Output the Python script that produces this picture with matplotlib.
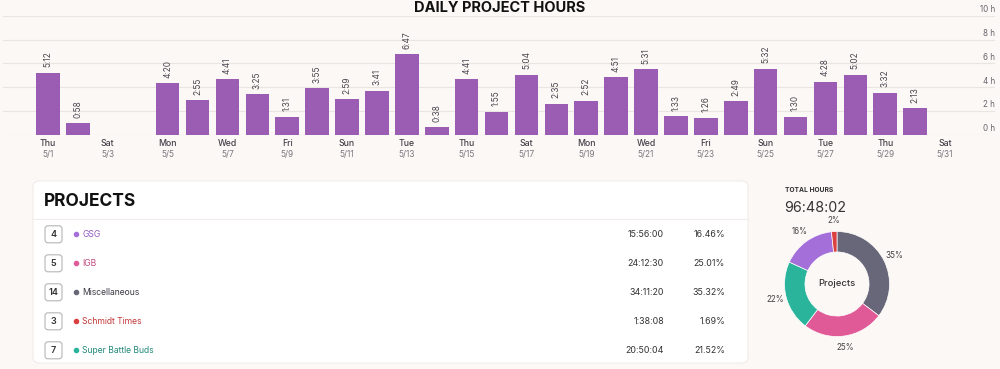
import numpy as np
import matplotlib.pyplot as plt
from matplotlib.patches import FancyBboxPatch

plt.rcParams['font.family'] = ['Inter', 'DejaVu Sans']

# daily hours (h:mm) for May 1..31
day_labels = ["5:12", "0:58", "", "", "4:20", "2:55", "4:41", "3:25", "1:31", "3:55",
              "2:59", "3:41", "6:47", "0:38", "4:41", "1:55", "5:04", "2:35", "2:52",
              "4:51", "5:31", "1:33", "1:26", "2:49", "5:32", "1:30", "4:28", "5:02",
              "3:32", "2:13", ""]
weekdays = ["Thu", "Fri", "Sat", "Sun", "Mon", "Tue", "Wed"]
hour_ticks = [0, 2, 4, 6, 8, 10]

# projects table
proj_names = ["GSG", "IGB", "Miscellaneous", "Schmidt Times", "Super Battle Buds"]
proj_counts = [4, 5, 14, 3, 7]
proj_times = ["15:56:00", "24:12:30", "34:11:20", "1:38:08", "20:50:04"]
proj_pcts = [16.46, 25.01, 35.32, 1.69, 21.52]
proj_colors = ["#a46fd9", "#e05a98", "#676779", "#d9403f", "#2bb49c"]
text_colors = ["#9559c4", "#c44a7f", "#3a3a45", "#c23a3a", "#23897a"]
donut_order = [2, 1, 4, 0, 3]
total_hours = "96:48:02"

BG = "#fcf8f5"
BAR = "#9b5cb4"


def to_hours(s):
    if not s:
        return 0.0
    h, m = s.split(":")
    return int(h) + int(m) / 60


hours = [to_hours(s) for s in day_labels]
days = np.arange(len(hours))

fig = plt.figure(figsize=(10, 3.69), dpi=100, facecolor=BG)

# ---- bar chart ----
ax = fig.add_axes([0.003, 1 - 134.7 / 369, 0.992, (134.7 - 16) / 369])
ax.set_facecolor(BG)
ax.bar(days, hours, width=0.79, color=BAR, zorder=2)
ax.set_xlim(-1.505, 31.67)
ax.set_ylim(0, 10)
for t in hour_ticks:
    ax.axhline(t, color="#ebe5e2", lw=0.8, zorder=1)
for sp in ax.spines.values():
    sp.set_visible(False)
ax.set_xticks([])
ax.set_yticks([])

for d, h, s in zip(days, hours, day_labels):
    if s:
        ax.annotate(s, (d, h), xytext=(0, 4), textcoords="offset points",
                    rotation=90, ha="center", va="bottom", fontsize=6,
                    color="#4a4550")

tr = ax.get_yaxis_transform()
for t in hour_ticks:
    ax.text(1.0, t + 0.52, f"{t} h", transform=tr, ha="right", va="center",
            fontsize=5.8, color="#6a6470")

xt = ax.get_xaxis_transform()
for d in days[::2]:
    ax.text(d, -0.078, weekdays[d % 7], transform=xt, ha="center", va="center",
            fontsize=6.3, color="#45404a", fontweight="medium")
    ax.text(d, -0.171, f"5/{d + 1}", transform=xt, ha="center", va="center",
            fontsize=6.0, color="#7d767f")

fig.text(0.5, 1 - 8 / 369, "DAILY PROJECT HOURS", ha="center", va="center",
         fontsize=10.5, fontweight="bold", color="#111111")

# ---- projects card (pixel coordinates) ----
ov = fig.add_axes([0, 0, 1, 1], zorder=-1)
ov.set_xlim(0, 1000)
ov.set_ylim(369, 0)
ov.axis("off")
ov.add_patch(FancyBboxPatch((33, 181), 715, 182, boxstyle="round,pad=0,rounding_size=6",
                            fc="white", ec="#f1ece9", lw=0.8))
ov.plot([33, 748], [218.5, 218.5], color="#f1ece9", lw=0.8)
ov.text(44, 201, "PROJECTS", ha="left", va="center", fontsize=12.5,
        fontweight="bold", color="#111111")

row_y = 234.3
for i, name in enumerate(proj_names):
    y = row_y + 29 * i
    ov.add_patch(FancyBboxPatch((45, y - 8.5), 17, 17,
                                boxstyle="round,pad=0,rounding_size=3",
                                fc="white", ec="#b8b4b8", lw=0.8))
    ov.text(53.5, y, str(proj_counts[i]), ha="center", va="center",
            fontsize=6.5, fontweight="semibold", color="#333333")
    ov.scatter([76], [y], s=9, color=proj_colors[i], zorder=3)
    ov.text(82.5, y, name, ha="left", va="center", fontsize=6.2,
            color=text_colors[i])
    ov.text(664, y, proj_times[i], ha="right", va="center", fontsize=6.4,
            color="#333333")
    ov.text(725, y, f"{proj_pcts[i]:.2f}%", ha="right", va="center",
            fontsize=6.4, color="#333333")

ov.text(785, 190, "TOTAL HOURS", ha="left", va="center", fontsize=4.8,
        fontweight="bold", color="#333333")
ov.text(784, 207.5, total_hours, ha="left", va="center", fontsize=10.3,
        color="#333333")

# ---- donut ----
dax = fig.add_axes([(837 - 70) / 1000, 1 - (284 + 70) / 369, 0.14, 140 / 369])
dax.set_facecolor("none")
vals = [proj_pcts[i] for i in donut_order]
cols = [proj_colors[i] for i in donut_order]
wedges, _, autotexts = dax.pie(vals, colors=cols, startangle=90, counterclock=False,
                               autopct="%.0f%%", pctdistance=1.22,
                               wedgeprops=dict(width=0.39, edgecolor="white", lw=0.5),
                               textprops=dict(fontsize=5.8, color="#444444"))
dax.set_xlim(-1.333, 1.333)
dax.set_ylim(-1.333, 1.333)
dax.set_aspect("equal")
dax.text(0, 0, "Projects", ha="center", va="center", fontsize=6.8,
         fontweight="medium", color="#333333")

fig.savefig("out.png", dpi=100, facecolor=BG)
